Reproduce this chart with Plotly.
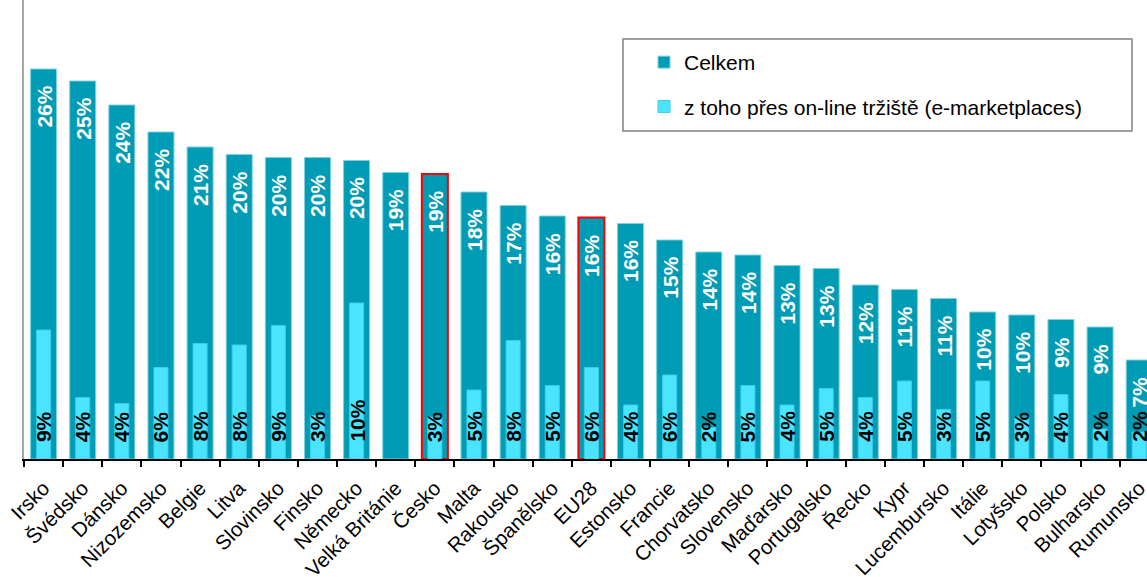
import plotly.graph_objects as go

categories = ["Irsko", "Švédsko", "Dánsko", "Nizozemsko", "Belgie", "Litva", "Slovinsko",
              "Finsko", "Německo", "Velká Británie", "Česko", "Malta", "Rakousko", "Španělsko",
              "EU28", "Estonsko", "Francie", "Chorvatsko", "Slovensko", "Maďarsko",
              "Portugalsko", "Řecko", "Kypr", "Lucembursko", "Itálie", "Lotyšsko", "Polsko",
              "Bulharsko", "Rumunsko"]
celkem = [26.0, 25.2, 23.6, 21.8, 20.8, 20.3, 20.1, 20.1, 19.9, 19.1, 19.0, 17.8, 16.9, 16.2,
          16.1, 15.7, 14.6, 13.8, 13.6, 12.9, 12.7, 11.6, 11.3, 10.7, 9.8, 9.6, 9.3, 8.8, 6.6]
marketplaces = [8.6, 4.1, 3.7, 6.1, 7.7, 7.6, 8.9, 2.9, 10.4, None, 2.8, 4.6, 7.9, 4.9,
                6.1, 3.6, 5.6, 2.1, 4.9, 3.6, 4.7, 4.1, 5.2, 3.3, 5.2, 2.8, 4.3, 2.0, 1.8]
highlighted = ["Česko", "EU28"]

DARK = "#009BB4"
LIGHT = "#4BE4FF"
FONT = "Liberation Sans, Arial, sans-serif"

W, H = 1147, 577
L, B = 24, 118
PW, PH = W - L, H - B
CAT_PX = 39.13
PX_PER_PCT = 15.0

line_colors = ["#FF0000" if c in highlighted else "#7FD3E0" for c in categories]
line_widths = [2 if c in highlighted else 1 for c in categories]

fig = go.Figure()
fig.add_trace(go.Bar(
    x=categories, y=celkem, name="Celkem", width=0.665,
    marker=dict(color=DARK, line=dict(color=line_colors, width=line_widths)),
    legendgroup="a", hoverinfo="x+y",
))
fig.add_trace(go.Bar(
    x=categories, y=marketplaces, name="z toho přes on-line tržiště (e-marketplaces)",
    width=0.36,
    marker=dict(color=LIGHT, line=dict(color="#3CCDE6", width=1)),
    legendgroup="b", hoverinfo="x+y",
))

annotations = []
for c, v in zip(categories, celkem):
    annotations.append(dict(
        x=c, y=v, xref="x", yref="y", text=f"{v:.0f}%", showarrow=False,
        textangle=-90, yanchor="top", xanchor="center", yshift=-15,
        font=dict(family=FONT, size=21, color="white", weight="bold"),
    ))
for c, v in zip(categories, marketplaces):
    if v is None:
        continue
    annotations.append(dict(
        x=c, y=0, xref="x", yref="y", text=f"{v:.0f}%", showarrow=False,
        textangle=-90, yanchor="bottom", xanchor="center", yshift=15,
        font=dict(family=FONT, size=21, color="black", weight="bold"),
    ))

fig.update_layout(
    width=W, height=H,
    margin=dict(l=L, r=0, t=0, b=B, autoexpand=False),
    paper_bgcolor="white", plot_bgcolor="white",
    barmode="overlay",
    font=dict(family=FONT, size=21, color="black"),
    annotations=annotations,
    showlegend=True,
    legend=dict(
        x=(644 - L) / PW, y=1 - 42 / PH, xanchor="left", yanchor="top",
        bgcolor="rgba(0,0,0,0)", borderwidth=0, tracegroupgap=14,
        font=dict(family=FONT, size=21, color="black"),
    ),
    shapes=[dict(
        type="rect", xref="paper", yref="paper",
        x0=(623 - L) / PW, x1=(1132 - L) / PW,
        y0=1 - 131 / PH, y1=1 - 39 / PH,
        line=dict(color="#808080", width=1.5), fillcolor="white", layer="below",
    )],
    xaxis=dict(
        type="category", range=[-0.5, -0.5 + PW / CAT_PX],
        tickangle=-45, tickson="boundaries", ticks="outside", ticklen=6,
        tickwidth=2, tickcolor="black", showline=True, linecolor="black", linewidth=2,
        showgrid=False, tickfont=dict(family=FONT, size=20.5, color="black"),
        ticklabelstandoff=7, ticklabelshift=0,
    ),
    yaxis=dict(
        range=[0, PH / PX_PER_PCT], showline=True, linecolor="#A6A6A6", linewidth=2,
        showticklabels=False, ticks="", showgrid=False, zeroline=False,
    ),
)

fig.write_html("out.html", config={"displayModeBar": False},
               post_script="document.body.style.margin='0';")
